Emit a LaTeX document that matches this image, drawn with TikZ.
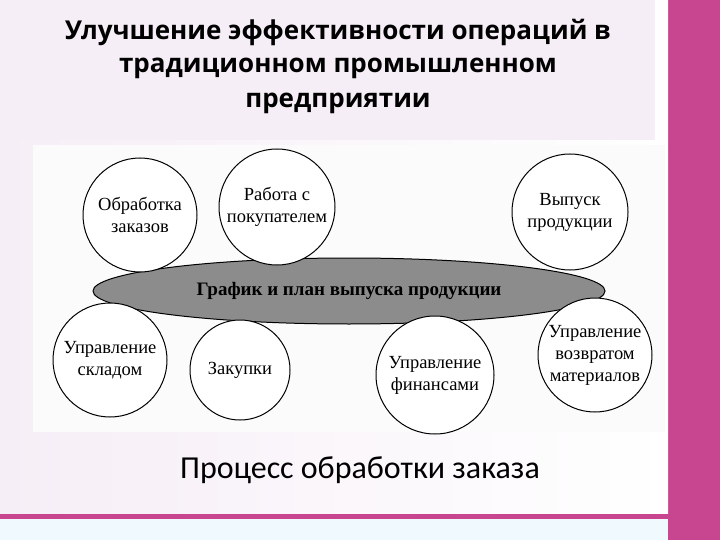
\documentclass[tikz,border=0pt]{standalone}
\usepackage{fontspec}
\usetikzlibrary{shapes.geometric}
\setmainfont{Liberation Serif}
\newfontfamily\titlefont{Open Sans}
\newfontfamily\capfont{Carlito}
\definecolor{pinkband}{RGB}{200,70,143}
\definecolor{titlebg}{RGB}{246,238,246}
\definecolor{ellfill}{RGB}{140,140,140}
\begin{document}
\begin{tikzpicture}[x=1pt,y=-1pt,
  bub/.style={circle,draw=black,line width=1pt,fill=white,align=center,font=\fontsize{18.5}{22}\selectfont,inner sep=0pt},
  ttl/.style={font=\titlefont\bfseries\fontsize{26}{28}\selectfont,text=black}]
\useasboundingbox (0,0) rectangle (720,540);
\fill[pinkband] (0,0) rectangle (720,540);
\fill[left color=titlebg, right color=white] (0,0) rectangle (668,513);
\fill[titlebg] (0,0) rectangle (655,140);
\fill[white!94!cyan] (0,519) rectangle (668,540);
\fill[white!97!gray] (33,145) rectangle (665,432);
\node[ttl] (t1) at (338,32) {Улучшение эффективности операций в};
\node[ttl] (t2) at (338,68) {традиционном промышленном};
\node[ttl] (t3) at (338,103) {предприятии};
\node[ellipse,draw=black,line width=1pt,fill=ellfill,minimum width=512pt,minimum height=66pt,font=\fontsize{19}{20}\selectfont\bfseries] (g) at (349,291) {График и план выпуска продукции};
\node[bub,minimum size=114pt] (a) at (140,215) {Обработка\\заказов};
\node[bub,minimum size=116pt] (b) at (277,207) {Работа с\\покупателем};
\node[bub,minimum size=116pt] (c) at (570,212) {Выпуск\\продукции};
\node[bub,minimum size=114pt] (d) at (110,360) {Управление\\складом};
\node[bub,minimum size=100pt] (e) at (240,370) {Закупки};
\node[bub,minimum size=118pt] (f) at (435,375) {Управление\\финансами};
\node[bub,minimum size=114pt] (h) at (595,355) {Управление\\возвратом\\материалов};
\node[font=\capfont\fontsize{32}{34}\selectfont] (cap) at (360,470) {Процесс обработки заказа};
\end{tikzpicture}
\end{document}
